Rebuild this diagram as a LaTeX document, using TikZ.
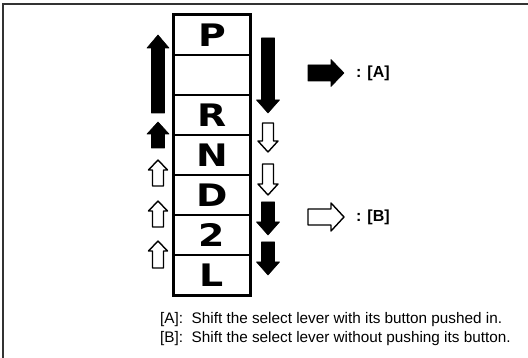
\documentclass[tikz,border=0pt]{standalone}
\usepackage{fontspec}
\setmainfont{Liberation Sans}
\newfontfamily\gearfont{DejaVu Sans}
\usetikzlibrary{positioning}
\tikzset{
  frameln/.style   = {line width=2pt, black!80},
  gatecell/.style  = {draw, line width=1.3pt, minimum width=76pt, minimum height=40pt,
                      inner sep=0pt, font=\gearfont\bfseries\fontsize{31}{31}\selectfont},
  solidarr/.style  = {fill=black, draw=black, line width=0.6pt, line join=round},
  hollowarr/.style = {fill=white, draw=black, line width=1.4pt, line join=round},
  legendtxt/.style = {font=\bfseries\fontsize{16}{16}\selectfont, anchor=west, inner sep=0pt},
  notetxt/.style   = {font=\fontsize{15.3}{17}\selectfont, anchor=west, inner sep=0pt}
}

\begin{document}
\begin{tikzpicture}[x=1pt,y=-1pt]
  \useasboundingbox (0,0) rectangle (528,358);
  \draw[frameln] (3,358) -- (3,4.5) -- (528,4.5);
  % the gate column, one cell per position
  \foreach \lab [count=\i] in {P,{},R,N,D,2,L}
    \node[gatecell] (c\i) at (212,{35+40*(\i-1)}) {\scalebox{1.22}[1]{\lab}};
  \draw[line width=2pt] (c1.north west) rectangle (c7.south east);
  % upward shifts, left of the column
  \foreach \yb/\yt/\w/\h/\hl/\st in {113/35/6.5/11/13/solidarr, 148/122/6.5/11/12/solidarr,
      186/160/5.5/9.5/10/hollowarr, 227/201/5.5/9.5/10/hollowarr, 268/241/5.5/9.5/10/hollowarr}
    \draw[\st] ({158-\w},\yb) -- ({158-\w},{\yt+\hl}) -- ({158-\h},{\yt+\hl}) -- (158,\yt)
      -- ({158+\h},{\yt+\hl}) -- ({158+\w},{\yt+\hl}) -- ({158+\w},\yb) -- cycle;
  % downward shifts, right of the column
  \foreach \yt/\yb/\w/\h/\hl/\st in {38/113/6.5/11.5/13/solidarr, 123/152/5.5/10/11/hollowarr,
      164/195/5.5/10/11/hollowarr, 202/235/6.5/11.5/13/solidarr, 242/275/6.5/11.5/13/solidarr}
    \draw[\st] ({268-\w},\yt) -- ({268-\w},{\yb-\hl}) -- ({268-\h},{\yb-\hl}) -- (268,\yb)
      -- ({268+\h},{\yb-\hl}) -- ({268+\w},{\yb-\hl}) -- ({268+\w},\yt) -- cycle;
  % legend
  \foreach \yc/\st/\w/\h/\lab in {73/solidarr/8/13.5/A, 217/hollowarr/8/14/B}
    { \draw[\st] (308,{\yc-\w}) -- (331,{\yc-\w}) -- (331,{\yc-\h}) -- (344,\yc)
        -- (331,{\yc+\h}) -- (331,{\yc+\w}) -- (308,{\yc+\w}) -- cycle;
      \node[legendtxt] (key\lab) at (356,\yc) {: [\lab]}; }
  \node[notetxt] (noteA) at (160,320) {[A]:\ \ Shift the select lever with its button pushed in.};
  \node[notetxt] (noteB) at (160,339) {[B]:\ \ Shift the select lever without pushing its button.};
\end{tikzpicture}
\end{document}
